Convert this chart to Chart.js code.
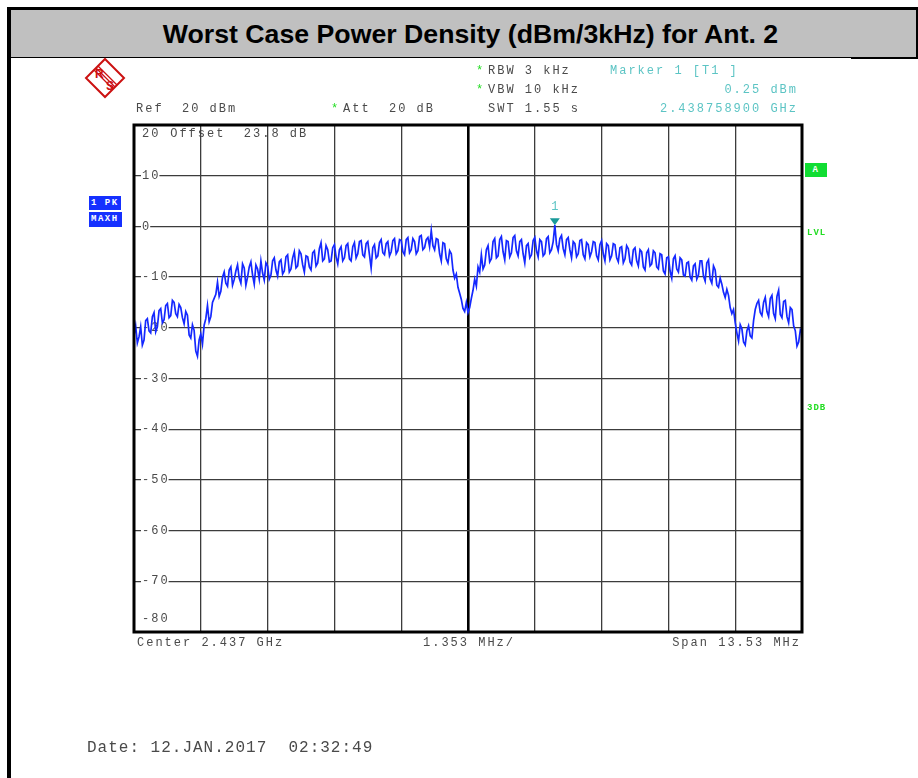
<!DOCTYPE html>
<html lang="en">
<head>
  <meta charset="UTF-8">
  <title>Worst Case Power Density (dBm/3kHz) for Ant. 2</title>
  <script src="https://cdn.jsdelivr.net/npm/chart.js"></script>
  <style>
    body {
      margin: 0;
      background: #fff;
      width: 918px;
      height: 778px;
      position: relative;
      overflow: hidden;
      font-family: "Liberation Mono", monospace;
    }
    #frame {
      position: absolute;
      left: 7px;
      top: 7px;
      width: 914px;
      height: 775px;
      border-left: 4px solid #000;
      border-top: 3px solid #000;
    }
    #title {
      position: absolute;
      left: 11px;
      top: 10px;
      width: 891px;
      height: 47px;
      padding-left: 14px;
      background: #c0c0c0;
      border-right: 2px solid #000;
      border-bottom: 1px solid #000;
      font: bold 26.7px "Liberation Sans", Arial, sans-serif;
      line-height: 48px;
      text-align: center;
      color: #000;
    }
    #titleEnd {
      position: absolute;
      left: 851px;
      top: 57px;
      width: 67px;
      height: 2px;
      background: #000;
    }
    canvas {
      position: absolute;
      left: 0;
      top: 0;
    }
    .t {
      position: absolute;
      font-size: 12px;
      letter-spacing: 2px;
      white-space: pre;
      line-height: 12px;
      color: #4a4a4a;
    }
    .teal { color: #5cc4c4; }
    .star { color: #22dd22; }
    .box {
      position: absolute;
      font: bold 9px "Liberation Mono", monospace;
      letter-spacing: 1.5px;
      color: #fff;
      white-space: pre;
      line-height: 14px;
      padding-left: 2px;
    }
    .grn {
      position: absolute;
      font: bold 9px "Liberation Mono", monospace;
      letter-spacing: 1px;
      color: #22dd22;
    }
    #date {
      position: absolute;
      left: 87px;
      top: 739px;
      font-size: 16px;
      letter-spacing: 1px;
      white-space: pre;
      color: #4a4a4a;
    }
  </style>
</head>
<body>
  <div id="frame"></div>
  <div id="title">Worst Case Power Density (dBm/3kHz) for Ant. 2</div>
  <div id="titleEnd"></div>

  <svg style="position:absolute;left:84px;top:57px" width="42" height="42" viewBox="0 0 42 42">
    <polygon points="21,2 40,21 21,40 2,21" fill="none" stroke="#cc1111" stroke-width="2"/>
    <line x1="10" y1="13" x2="29" y2="32" stroke="#cc1111" stroke-width="1.2"/>
    <line x1="12" y1="11" x2="31" y2="30" stroke="#cc1111" stroke-width="1.2"/>
    <line x1="14" y1="9" x2="33" y2="28" stroke="#cc1111" stroke-width="1.2"/>
    <text x="11" y="21" font-family="Liberation Sans" font-weight="bold" font-size="12" fill="#cc1111">R</text>
    <text x="22" y="33" font-family="Liberation Sans" font-weight="bold" font-size="12" fill="#cc1111">S</text>
  </svg>

  <canvas id="specChart" width="918" height="778"></canvas>

  <div class="t star" style="left:476px;top:65px">*</div>
  <div class="t" style="left:488px;top:65px">RBW 3 kHz</div>
  <div class="t star" style="left:476px;top:84px">*</div>
  <div class="t" style="left:488px;top:84px">VBW 10 kHz</div>
  <div class="t" style="left:488px;top:103px">SWT 1.55 s</div>
  <div class="t teal" style="left:610px;top:65px">Marker 1 [T1 ]</div>
  <div class="t teal" style="right:120px;top:84px">0.25 dBm</div>
  <div class="t teal" style="right:120px;top:103px">2.438758900 GHz</div>
  <div class="t" style="left:136px;top:103px">Ref  20 dBm</div>
  <div class="t star" style="left:331px;top:103px">*</div>
  <div class="t" style="left:343px;top:103px">Att  20 dB</div>

  <div class="box" style="left:89px;top:196px;width:30px;height:14px;background:#1530ff">1 PK</div>
  <div class="box" style="left:89px;top:212px;width:31px;height:15px;background:#1530ff">MAXH</div>
  <div class="box" style="left:805px;top:163px;width:22px;height:14px;background:#11dd33;text-align:center;padding-left:0">A</div>
  <div class="grn" style="left:807px;top:228px">LVL</div>
  <div class="grn" style="left:807px;top:403px">3DB</div>

  <div class="t" style="left:137px;top:637px">Center 2.437 GHz</div>
  <div class="t" style="left:423px;top:637px">1.353 MHz/</div>
  <div class="t" style="right:117px;top:637px">Span 13.53 MHz</div>

  <div id="date">Date: 12.JAN.2017  02:32:49</div>

  <script>
    // sweep settings (MHz)
    const centerFreq = 2437.0;
    const spanFreq = 13.53;
    const divFreq = 1.353;

    // level axis (dBm)
    const refLevel = 20;
    const bottomLevel = -80;
    const levelTicks = [20, 10, 0, -10, -20, -30, -40, -50, -60, -70, -80];

    // marker 1
    const markerFreq = 2438.7589;
    const markerLevel = 0.25;

    // max-hold trace, evenly spaced across the span
    const traceLevels = [
      -21.5, -19.6, -23.0, -21.8, -19.8, -23.4, -22.4, -18.6, -18.2, -20.6, -21.0, -17.8, -17.0, -20.8, -19.8, -16.6, -16.2, -19.0, -18.4, -15.6,
      -15.2, -18.0, -17.6, -14.6, -15.0, -17.2, -17.8, -15.4, -16.0, -18.0, -19.2, -16.8, -17.5, -21.4, -22.0, -19.4, -20.5, -24.6, -25.6, -22.4,
      -21.2, -23.2, -19.5, -18.2, -15.6, -18.8, -17.8, -15.0, -14.2, -13.4, -11.0, -13.8, -12.8, -10.0, -9.0, -11.2, -11.8, -8.6, -8.0, -11.6,
      -10.5, -8.8, -7.6, -10.2, -11.2, -7.4, -8.2, -11.6, -10.0, -8.0, -7.0, -9.6, -11.4, -7.6, -8.4, -10.4, -6.8, -9.2, -10.6, -7.2,
      -7.8, -10.4, -9.6, -6.8, -6.2, -8.6, -9.8, -7.0, -6.6, -9.4, -8.8, -6.0, -5.6, -9.0, -8.4, -6.2, -5.0, -8.2, -7.8, -4.8,
      -5.4, -7.6, -9.0, -5.8, -6.0, -8.0, -8.6, -5.2, -4.8, -7.8, -7.2, -4.4, -3.2, -6.8, -6.4, -3.8, -4.6, -7.0, -6.8, -4.2,
      -3.6, -6.0, -7.4, -4.6, -4.0, -6.8, -6.2, -3.8, -3.4, -6.4, -6.8, -4.0, -3.2, -6.2, -5.4, -3.0, -2.8, -5.6, -6.0, -3.4,
      -3.0, -5.6, -8.2, -4.2, -3.6, -6.2, -5.8, -3.2, -2.6, -5.2, -5.6, -3.4, -3.0, -5.8, -5.0, -2.8, -2.4, -5.4, -4.8, -2.6,
      -2.8, -5.0, -5.6, -2.6, -2.2, -5.2, -4.6, -2.4, -3.0, -5.4, -4.8, -2.0, -1.8, -4.6, -4.2, -2.6, -2.2, -4.0, -0.8, -3.8,
      -4.6, -2.4, -2.6, -5.4, -6.8, -3.2, -3.4, -6.4, -7.2, -4.8, -5.4, -8.6, -10.2, -9.4, -12.0, -13.2, -14.4, -16.2, -16.8, -15.0,
      -17.0, -16.0, -14.2, -12.6, -10.4, -11.8, -8.0, -9.0, -5.6, -8.4, -7.6, -4.6, -3.8, -7.0, -6.4, -3.0, -2.4, -6.2, -5.8, -2.6,
      -2.0, -5.0, -6.6, -2.8, -3.0, -6.0, -5.2, -2.2, -1.8, -4.8, -5.8, -3.0, -2.6, -5.4, -7.2, -3.8, -3.4, -6.2, -5.6, -2.8,
      -2.2, -4.8, -6.0, -2.6, -3.0, -5.8, -5.4, -2.4, -2.0, -5.2, -4.6, -3.0, 0.25, -3.6, -4.8, -2.4, -1.8, -4.4, -5.6, -2.6,
      -2.2, -4.6, -6.2, -3.0, -3.4, -6.0, -5.4, -2.8, -2.6, -5.6, -6.4, -3.2, -3.6, -6.0, -5.0, -3.0, -3.2, -5.8, -6.6, -3.6,
      -2.8, -5.4, -6.8, -3.4, -3.8, -6.6, -5.8, -3.4, -3.6, -6.2, -7.0, -4.2, -4.0, -7.2, -6.4, -3.8, -4.4, -7.0, -7.6, -4.6,
      -4.2, -6.8, -7.8, -4.6, -5.0, -8.0, -8.6, -5.2, -4.6, -7.8, -7.4, -4.8, -5.2, -8.0, -8.4, -5.4, -5.6, -8.8, -9.4, -6.2,
      -6.0, -8.8, -10.2, -6.4, -5.8, -8.4, -9.0, -6.2, -6.6, -9.6, -9.8, -7.2, -7.0, -10.0, -10.6, -7.8, -7.4, -10.4, -9.6, -6.8,
      -6.8, -9.8, -10.8, -7.2, -6.6, -10.4, -11.2, -7.8, -8.6, -11.6, -12.0, -10.2, -11.4, -13.0, -14.0, -12.4, -13.6, -16.0, -17.2, -16.4,
      -19.0, -21.0, -22.6, -19.4, -20.2, -22.8, -23.4, -20.6, -19.6, -21.6, -22.0, -18.6, -16.4, -15.2, -14.6, -17.0, -17.6, -15.0, -14.0, -16.8,
      -17.8, -14.2, -13.6, -17.2, -18.2, -13.8, -12.6, -17.4, -18.0, -14.8, -14.6, -17.8, -19.0, -16.0, -16.4, -19.6, -20.6, -23.6, -22.8, -20.4,
      -21.0
    ];

    const startFreq = centerFreq - spanFreq / 2;
    const stopFreq = centerFreq + spanFreq / 2;
    const sweepStep = spanFreq / (traceLevels.length - 1);
    const tracePoints = traceLevels.map((v, i) => ({ x: startFreq + i * sweepStep, y: v }));
    const gridFreqs = [];
    for (let k = 0; k <= 10; k++) gridFreqs.push(startFreq + k * divFreq);

    const screenPlugin = {
      id: 'screen',
      beforeDraw(chart) {
        const ctx = chart.ctx;
        const a = chart.chartArea;
        ctx.save();
        ctx.font = '12px "Liberation Mono", monospace';
        ctx.letterSpacing = '2px';
        ctx.fillStyle = '#4a4a4a';
        ctx.textBaseline = 'middle';
        ctx.fillText(' Offset  23.8 dB', 161, a.top + 9);
        ctx.restore();
      },
      beforeDatasetsDraw(chart) {
        const ctx = chart.ctx;
        const a = chart.chartArea;
        const ys = chart.scales.y;
        ctx.save();
        ctx.font = '12px "Liberation Mono", monospace';
        ctx.letterSpacing = '2px';
        ctx.textBaseline = 'middle';
        levelTicks.forEach(v => {
          let y = ys.getPixelForValue(v);
          if (v === refLevel) y = a.top + 9;
          if (v === bottomLevel) y = a.bottom - 13;
          const label = v < 0 ? '-' + Math.abs(v) : String(v);
          const w = ctx.measureText(label).width;
          ctx.fillStyle = '#fff';
          ctx.fillRect(a.left + 7, y - 5, w, 10);
          ctx.fillStyle = '#4a4a4a';
          ctx.fillText(label, a.left + 8, y);
        });
        ctx.restore();
      },
      afterDatasetsDraw(chart) {
        const ctx = chart.ctx;
        const a = chart.chartArea;
        const xs = chart.scales.x;
        const ys = chart.scales.y;
        ctx.save();
        ctx.strokeStyle = '#000';
        ctx.lineWidth = 3;
        ctx.strokeRect(a.left, a.top, a.right - a.left, a.bottom - a.top);

        // marker 1
        const mx = xs.getPixelForValue(markerFreq);
        const my = ys.getPixelForValue(markerLevel);
        ctx.fillStyle = '#1a9a9a';
        ctx.beginPath();
        ctx.moveTo(mx - 5, my - 7);
        ctx.lineTo(mx + 5, my - 7);
        ctx.lineTo(mx, my);
        ctx.closePath();
        ctx.fill();
        ctx.font = '12px "Liberation Mono", monospace';
        ctx.fillStyle = '#5cc4c4';
        ctx.textAlign = 'center';
        ctx.textBaseline = 'middle';
        ctx.fillText('1', mx, my - 18);
        ctx.restore();
      }
    };

    new Chart(document.getElementById('specChart'), {
      type: 'line',
      data: {
        datasets: [{
          label: '1 PK MAXH',
          data: tracePoints,
          borderColor: '#1428ff',
          borderWidth: 1.7,
          pointRadius: 0,
          tension: 0,
          fill: false
        }]
      },
      options: {
        responsive: false,
        animation: false,
        devicePixelRatio: 1,
        layout: { padding: { left: 134, top: 125, right: 116, bottom: 146 } },
        plugins: {
          legend: { display: false },
          tooltip: { enabled: false }
        },
        scales: {
          x: {
            type: 'linear',
            min: startFreq,
            max: stopFreq,
            afterBuildTicks: scale => { scale.ticks = gridFreqs.map(v => ({ value: v })); },
            ticks: { display: false },
            border: { display: false },
            grid: {
              drawTicks: false,
              color: c => c.index === 5 ? '#000' : '#3c3c3c',
              lineWidth: c => c.index === 5 ? 2.6 : 1.3
            }
          },
          y: {
            type: 'linear',
            min: bottomLevel,
            max: refLevel,
            afterBuildTicks: scale => { scale.ticks = levelTicks.map(v => ({ value: v })); },
            ticks: { display: false },
            border: { display: false },
            grid: {
              drawTicks: false,
              color: '#3c3c3c',
              lineWidth: 1.3
            }
          }
        }
      },
      plugins: [screenPlugin]
    });
  </script>
</body>
</html>
